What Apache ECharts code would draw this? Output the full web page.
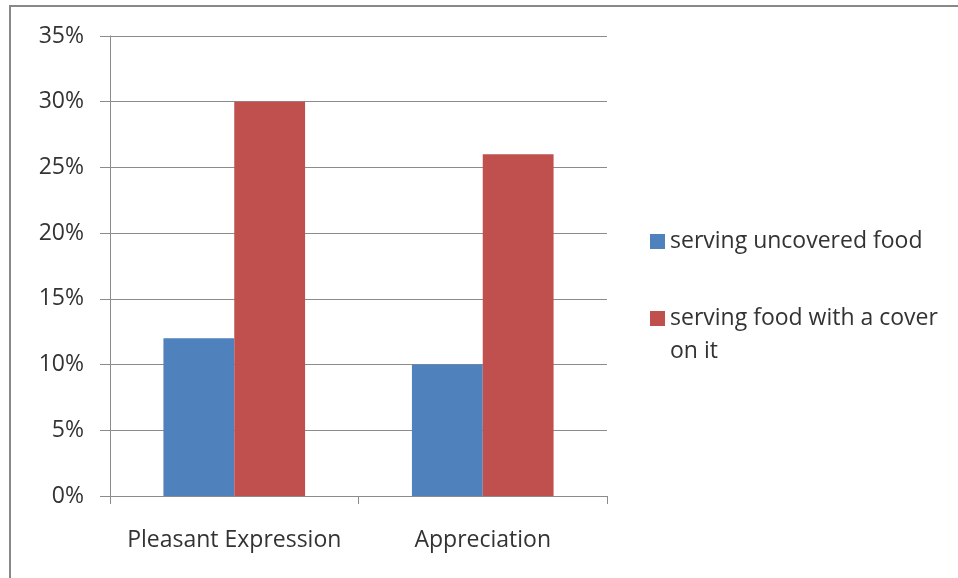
<!DOCTYPE html>
<html>
<head>
<meta charset="utf-8">
<script src="https://cdn.jsdelivr.net/npm/echarts@6/dist/echarts.min.js"></script>
<style>
html,body{margin:0;padding:0;background:#fff;}
#chart{width:958px;height:578px;}
</style>
</head>
<body>
<div id="chart"></div>
<script>
const categories = ['Pleasant Expression', 'Appreciation'];
const seriesNames = ['serving uncovered food', 'serving food with a cover on it'];
const uncovered = [0.12, 0.10];
const covered = [0.30, 0.26];
const yTicks = [0, 0.05, 0.10, 0.15, 0.20, 0.25, 0.30, 0.35];

const FONT = 'Open Sans';
const FS = 23;
const chart = echarts.init(document.getElementById('chart'));
chart.setOption({
  animation: false,
  backgroundColor: '#fff',
  graphic: [{
    type: 'rect',
    shape: {x: 10, y: 6, width: 1200, height: 1200},
    style: {fill: 'none', stroke: '#888', lineWidth: 2},
    silent: true
  }],
  grid: {left: 110, right: 351, top: 36, bottom: 82, containLabel: false},
  legend: [{
    data: [seriesNames[0]],
    left: 650, top: 230, padding: 0,
    orient: 'vertical',
    icon: 'rect', itemWidth: 15, itemHeight: 15,
    textStyle: {fontFamily: FONT, fontSize: FS, color: '#333'}
  }, {
    data: [seriesNames[1]],
    left: 650, top: 269, padding: 0,
    orient: 'vertical',
    icon: 'rect', itemWidth: 15, itemHeight: 15,
    formatter: function () { return '\nserving food with a cover\non it'; },
    textStyle: {fontFamily: FONT, fontSize: FS, color: '#333', lineHeight: 33}
  }],
  xAxis: {
    type: 'category',
    data: categories,
    axisLine: {lineStyle: {color: '#8c8c8c', width: 1}},
    axisTick: {show: true, length: 8, alignWithLabel: false, lineStyle: {color: '#8c8c8c'}},
    axisLabel: {fontFamily: FONT, fontSize: FS, color: '#333', margin: 33, interval: 0, hideOverlap: false},
    splitLine: {show: false}
  },
  yAxis: {
    type: 'value',
    min: 0, max: 0.35, interval: 0.05,
    axisLine: {show: true, lineStyle: {color: '#8c8c8c', width: 1}},
    axisTick: {show: true, length: 10, lineStyle: {color: '#8c8c8c'}},
    axisLabel: {
      fontFamily: FONT, fontSize: FS, color: '#333', margin: 26,
      formatter: function (v) { return Math.round(v * 100) + '%'; }
    },
    splitLine: {show: true, lineStyle: {color: '#8c8c8c', width: 1}}
  },
  series: [{
    name: seriesNames[0],
    type: 'bar',
    data: uncovered,
    barGap: '0%',
    barCategoryGap: '43%',
    itemStyle: {color: '#4F81BD'}
  }, {
    name: seriesNames[1],
    type: 'bar',
    data: covered,
    barGap: '0%',
    barCategoryGap: '43%',
    itemStyle: {color: '#C0504D'}
  }]
});
</script>
</body>
</html>
